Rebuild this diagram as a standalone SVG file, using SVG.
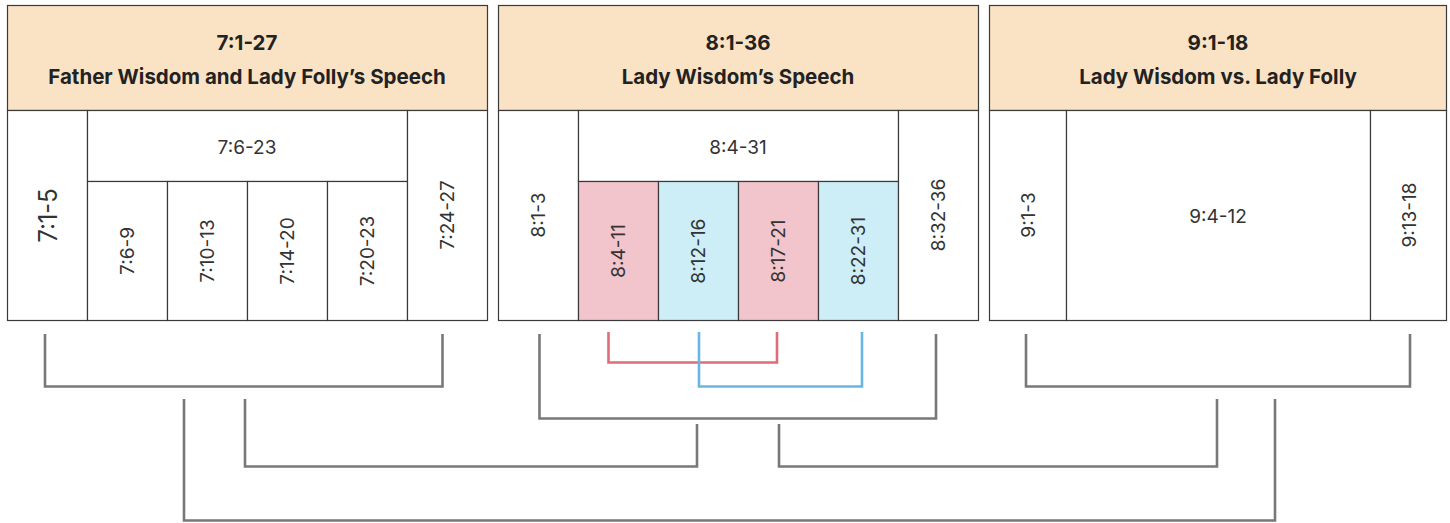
<svg xmlns="http://www.w3.org/2000/svg" width="1450" height="523" viewBox="0 0 1450 523">
<style>
.hdr{fill:#FAE3C5;stroke:#3a3a3a;stroke-width:1.2}
.cell{fill:#ffffff;stroke:#3a3a3a;stroke-width:1.2}
.pink{fill:#F2C4CB;stroke:#3a3a3a;stroke-width:1.2}
.blue{fill:#CDEEF7;stroke:#3a3a3a;stroke-width:1.2}
.ht{font-family:Inter,"Liberation Sans",sans-serif;font-weight:700;font-size:20.5px;fill:#222;text-anchor:middle}
.bt{font-family:Inter,"Liberation Sans",sans-serif;font-size:19px;fill:#333;text-anchor:middle}
.big{font-size:25px}
.con{fill:none;stroke:#787878;stroke-width:2.6}
.red{fill:none;stroke:#E06B7B;stroke-width:2.6}
.cyan{fill:none;stroke:#68B7E3;stroke-width:2.6}
</style>
<rect width="1450" height="523" fill="#ffffff"/>

<!-- Panel 1 -->
<g id="p1-header"><rect class="hdr" x="7.5" y="5.5" width="480" height="105"/>
<text class="ht" x="247" y="50">7:1-27</text>
<text class="ht" x="247" y="84">Father Wisdom and Lady Folly’s Speech</text></g>
<g id="n-7-1-5"><rect class="cell" x="7.5" y="110.5" width="80" height="210"/><text class="bt big" transform="translate(48,215.5) rotate(-90)" dy="0.35em" textLength="54" lengthAdjust="spacingAndGlyphs">7:1-5</text></g>
<g id="n-7-6-23"><rect class="cell" x="87.5" y="110.5" width="320" height="71"/><text class="bt" x="247" y="147" dy="0.35em">7:6-23</text></g>
<g id="n-7-6-9"><rect class="cell" x="87.5" y="181.5" width="80" height="139"/><text class="bt" transform="translate(127,251) rotate(-90)" dy="0.35em">7:6-9</text></g>
<g id="n-7-10-13"><rect class="cell" x="167.5" y="181.5" width="80" height="139"/><text class="bt" transform="translate(207,251) rotate(-90)" dy="0.35em">7:10-13</text></g>
<g id="n-7-14-20"><rect class="cell" x="247.5" y="181.5" width="80" height="139"/><text class="bt" transform="translate(287,251) rotate(-90)" dy="0.35em">7:14-20</text></g>
<g id="n-7-20-23"><rect class="cell" x="327.5" y="181.5" width="80" height="139"/><text class="bt" transform="translate(367,251) rotate(-90)" dy="0.35em">7:20-23</text></g>
<g id="n-7-24-27"><rect class="cell" x="407.5" y="110.5" width="80" height="210"/><text class="bt" transform="translate(447,215) rotate(-90)" dy="0.35em">7:24-27</text></g>

<!-- Panel 2 -->
<g id="p2-header"><rect class="hdr" x="498.5" y="5.5" width="480" height="105"/>
<text class="ht" x="738" y="50">8:1-36</text>
<text class="ht" x="738" y="84">Lady Wisdom’s Speech</text></g>
<g id="n-8-1-3"><rect class="cell" x="498.5" y="110.5" width="80" height="210"/><text class="bt" transform="translate(538,215) rotate(-90)" dy="0.35em">8:1-3</text></g>
<g id="n-8-4-31"><rect class="cell" x="578.5" y="110.5" width="320" height="71"/><text class="bt" x="738" y="147" dy="0.35em">8:4-31</text></g>
<g id="n-8-4-11"><rect class="pink" x="578.5" y="181.5" width="80" height="139"/><text class="bt" transform="translate(618,251) rotate(-90)" dy="0.35em">8:4-11</text></g>
<g id="n-8-12-16"><rect class="blue" x="658.5" y="181.5" width="80" height="139"/><text class="bt" transform="translate(698,251) rotate(-90)" dy="0.35em">8:12-16</text></g>
<g id="n-8-17-21"><rect class="pink" x="738.5" y="181.5" width="80" height="139"/><text class="bt" transform="translate(778,251) rotate(-90)" dy="0.35em">8:17-21</text></g>
<g id="n-8-22-31"><rect class="blue" x="818.5" y="181.5" width="80" height="139"/><text class="bt" transform="translate(858,251) rotate(-90)" dy="0.35em">8:22-31</text></g>
<g id="n-8-32-36"><rect class="cell" x="898.5" y="110.5" width="80" height="210"/><text class="bt" transform="translate(938,215) rotate(-90)" dy="0.35em">8:32-36</text></g>

<!-- Panel 3 -->
<g id="p3-header"><rect class="hdr" x="989.5" y="5.5" width="457" height="105"/>
<text class="ht" x="1218" y="50">9:1-18</text>
<text class="ht" x="1218" y="84">Lady Wisdom vs. Lady Folly</text></g>
<g id="n-9-1-3"><rect class="cell" x="989.5" y="110.5" width="77" height="210"/><text class="bt" transform="translate(1028,215) rotate(-90)" dy="0.35em">9:1-3</text></g>
<g id="n-9-4-12"><rect class="cell" x="1066.5" y="110.5" width="304" height="210"/><text class="bt" x="1218" y="216" dy="0.35em">9:4-12</text></g>
<g id="n-9-13-18"><rect class="cell" x="1370.5" y="110.5" width="76" height="210"/><text class="bt" transform="translate(1409,215) rotate(-90)" dy="0.35em">9:13-18</text></g>

<g id="connectors">
<path class="con" d="M45,334 V386.5 H442.5 V334"/>
<path class="red" d="M608.5,332 V362.5 H777 V332"/>
<path class="cyan" d="M699,332 V386.5 H862 V332"/>
<path class="con" d="M539.5,334 V418.5 H936 V334"/>
<path class="con" d="M1026,334 V386.5 H1410 V334"/>
<path class="con" d="M245,399 V466.5 H697 V424"/>
<path class="con" d="M779,424 V466.5 H1217 V399"/>
<path class="con" d="M184,399 V520.5 H1275 V399"/>
</g>
</svg>
